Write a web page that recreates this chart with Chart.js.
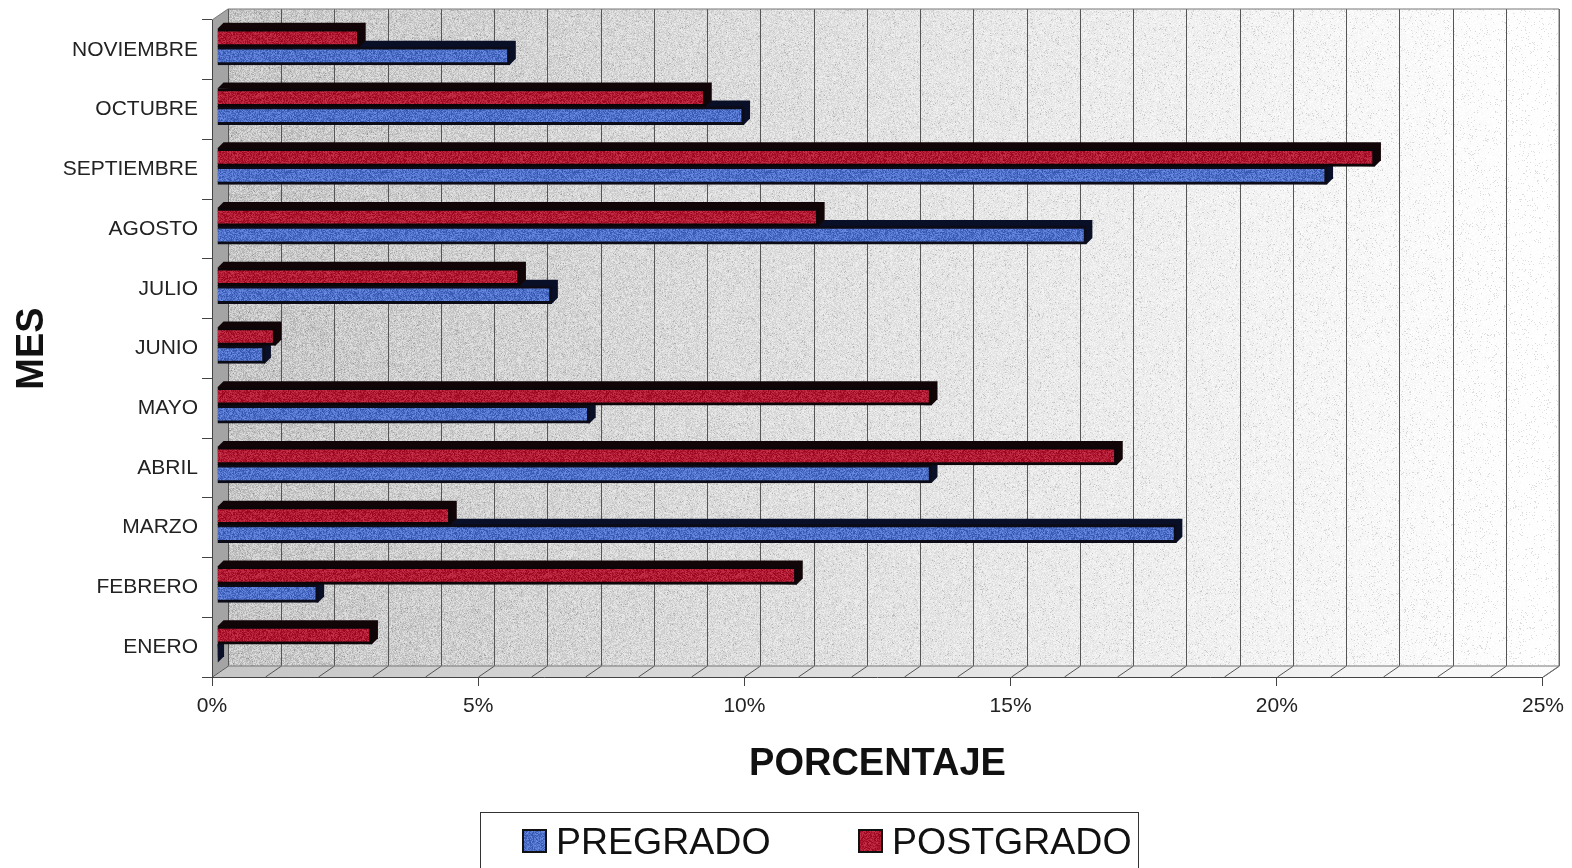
<!DOCTYPE html>
<html lang="es">
<head>
<meta charset="UTF-8"/>
<title>Porcentaje por mes</title>
<script src="https://cdn.jsdelivr.net/npm/chart.js"></script>
<style>
 html,body{margin:0;padding:0;background:#fff;overflow:hidden}
 canvas{display:block}
</style>
</head>
<body>
<canvas id="chart" width="1572" height="868"></canvas>
<script>
const meses = ['ENERO','FEBRERO','MARZO','ABRIL','MAYO','JUNIO','JULIO','AGOSTO','SEPTIEMBRE','OCTUBRE','NOVIEMBRE'];
const pregrado = [0.02,1.9,18.02,13.42,7.0,0.9,6.29,16.33,20.85,9.9,5.5];
const postgrado = [2.91,10.89,4.39,16.9,13.42,1.1,5.69,11.3,21.75,9.18,2.68];
const FONT = '"Liberation Sans", Arial, sans-serif';
const DEPTH = 6, BAR_SHIFT = 5, BAR_LIFT = 3, WALL_X = 16, WALL_Y = 11;

// small deterministic generator, only for the scanned paper grain
let seed = 12345;
function rnd(){ seed = (seed * 1664525 + 1013904223) >>> 0; return seed / 4294967296; }

// speckled fill for the bars
function grain(r,g,b,amp){
  const c = document.createElement('canvas');
  c.width = c.height = 96;
  const x = c.getContext('2d'), img = x.createImageData(96,96);
  for(let i=0;i<img.data.length;i+=4){
    const n = (rnd()-0.5)*amp;
    img.data[i]=r+n; img.data[i+1]=g+n; img.data[i+2]=b+n; img.data[i+3]=255;
  }
  x.putImageData(img,0,0);
  return x.createPattern(c,'repeat');
}
const blueFill = grain(78,112,200,60);
const redFill = grain(176,26,50,50);

// back wall: grey on the left, fading to white, stippled
function wallTexture(w,h){
  const c = document.createElement('canvas');
  c.width = w; c.height = h;
  const x = c.getContext('2d'), img = x.createImageData(w,h);
  for(let j=0;j<h;j++) for(let i=0;i<w;i++){
    const t = i/w;
    let v = 198 + 58*t + (rnd()-0.5)*(45*(1-t)+6);
    if(rnd()<0.05) v -= 32;
    const k = (j*w+i)*4;
    img.data[k]=v; img.data[k+1]=v; img.data[k+2]=v; img.data[k+3]=255;
  }
  x.putImageData(img,0,0);
  return c;
}

const wall3d = {
  id:'wall3d',
  beforeDraw(chart){
    const {ctx, scales:{x,y}} = chart;
    const left = x.getPixelForValue(0), right = x.getPixelForValue(25);
    const top = y.top, bottom = y.bottom;
    ctx.save();
    ctx.fillStyle = '#fff';
    ctx.fillRect(0,0,chart.width,chart.height);
    // back wall
    const bw = right-left, bh = bottom-top;
    ctx.drawImage(wallTexture(Math.round(bw),Math.round(bh)), left+WALL_X, top-WALL_Y);
    // side wall
    ctx.fillStyle = '#a4a4a4';
    ctx.beginPath();
    ctx.moveTo(left,top); ctx.lineTo(left+WALL_X,top-WALL_Y);
    ctx.lineTo(left+WALL_X,bottom-WALL_Y); ctx.lineTo(left,bottom);
    ctx.closePath(); ctx.fill();
    // floor
    const floor = ctx.createLinearGradient(left,0,right,0);
    floor.addColorStop(0,'#c6c6c6');
    floor.addColorStop(1,'#fbfbfb');
    ctx.fillStyle = floor;
    ctx.beginPath();
    ctx.moveTo(left,bottom); ctx.lineTo(left+WALL_X,bottom-WALL_Y);
    ctx.lineTo(right+WALL_X,bottom-WALL_Y); ctx.lineTo(right,bottom);
    ctx.closePath(); ctx.fill();
    // 1% gridlines on the wall and floor
    ctx.strokeStyle = '#555';
    ctx.lineWidth = 1;
    for(let v=0;v<=25;v++){
      const px = Math.round(x.getPixelForValue(v))+0.5;
      ctx.beginPath();
      ctx.moveTo(px,bottom); ctx.lineTo(px+WALL_X,bottom-WALL_Y);
      ctx.lineTo(px+WALL_X,top-WALL_Y);
      ctx.stroke();
    }
    // outlines
    ctx.strokeStyle = '#777';
    ctx.beginPath();
    ctx.moveTo(left,top); ctx.lineTo(left+WALL_X,top-WALL_Y); ctx.lineTo(right+WALL_X,top-WALL_Y);
    ctx.lineTo(right+WALL_X,bottom-WALL_Y); ctx.lineTo(right,bottom);
    ctx.moveTo(left+WALL_X,bottom-WALL_Y); ctx.lineTo(right+WALL_X,bottom-WALL_Y);
    ctx.stroke();
    ctx.restore();
  },
  beforeDatasetsDraw(chart){
    const {ctx} = chart;
    ctx.save();
    ctx.translate(BAR_SHIFT,-BAR_LIFT);
    // depth faces, lower series first so the upper one sits over it
    [[1,'#0a0f28'],[0,'#120507']].forEach(([i,dark])=>{
      ctx.fillStyle = dark;
      chart.getDatasetMeta(i).data.forEach(bar=>{
        const t = bar.y-bar.height/2, b = bar.y+bar.height/2;
        ctx.beginPath();
        ctx.moveTo(bar.base,t);
        ctx.lineTo(bar.base+DEPTH,t-DEPTH);
        ctx.lineTo(bar.x+DEPTH,t-DEPTH);
        ctx.lineTo(bar.x+DEPTH,b-DEPTH);
        ctx.lineTo(bar.x,b);
        ctx.closePath();
        ctx.fill();
      });
    });
  },
  afterDatasetsDraw(chart){
    chart.ctx.restore();
  },
  afterDraw(chart){
    // legend box is cut by the bottom edge of the page, like the scan
    const {ctx} = chart;
    ctx.save();
    ctx.strokeStyle = '#333';
    ctx.lineWidth = 1;
    ctx.strokeRect(480.5,812.5,658,80);
    ctx.font = '37.5px '+FONT;
    ctx.textBaseline = 'middle';
    const items = [[1,523,556,blueFill],[0,859,892,redFill]];
    items.forEach(([i,boxX,textX,fill])=>{
      ctx.fillStyle = fill;
      ctx.fillRect(boxX,830,23,22);
      ctx.strokeStyle = '#111';
      ctx.lineWidth = 2;
      ctx.strokeRect(boxX,830,23,22);
      ctx.fillStyle = '#111';
      ctx.fillText(chart.data.datasets[i].label,textX,844);
    });
    ctx.restore();
  }
};

new Chart(document.getElementById('chart'),{
  type:'bar',
  data:{
    labels:meses,
    datasets:[
      {label:'POSTGRADO',data:postgrado,backgroundColor:redFill,borderColor:'#0c0608',borderWidth:3},
      {label:'PREGRADO',data:pregrado,backgroundColor:blueFill,borderColor:'#0c0c18',borderWidth:3}
    ]
  },
  plugins:[wall3d],
  options:{
    indexAxis:'y',
    responsive:false,
    animation:false,
    clip:false,
    barThickness:18,
    layout:{padding:{top:20,right:28,bottom:0,left:0}},
    plugins:{legend:{display:false},tooltip:{enabled:false}},
    scales:{
      x:{
        min:0,max:25,
        afterFit(s){ s.height = 191; },
        ticks:{stepSize:5,maxRotation:0,padding:8,color:'#222',font:{family:FONT,size:21},callback:v=>v+'%'},
        grid:{drawOnChartArea:false,tickLength:9,color:'#444'},
        border:{color:'#444'},
        title:{display:true,text:'PORCENTAJE',color:'#111',font:{family:FONT,size:38,weight:'bold'},padding:{top:0,bottom:81}}
      },
      y:{
        reverse:true,
        afterFit(s){ s.width = 212; },
        ticks:{padding:4,color:'#222',font:{family:FONT,size:21}},
        grid:{drawOnChartArea:false,tickLength:10,color:'#444'},
        border:{color:'#444'},
        title:{display:true,text:'MES',color:'#111',font:{family:FONT,size:38,weight:'bold'},padding:{top:10,bottom:0}}
      }
    }
  }
});
</script>
</body>
</html>
